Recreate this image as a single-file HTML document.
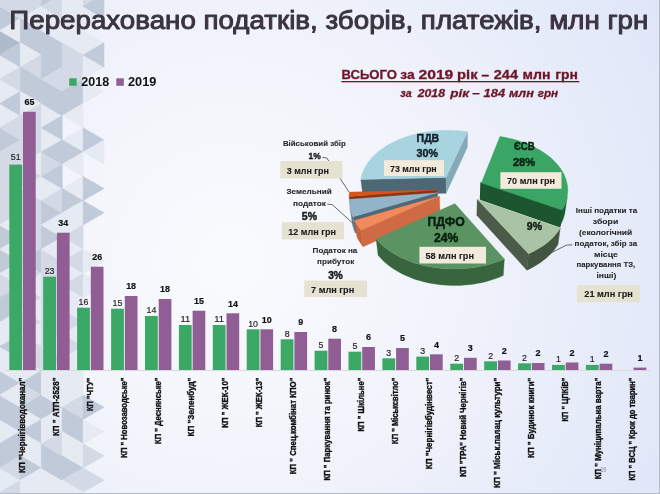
<!DOCTYPE html>
<html><head><meta charset="utf-8"><style>html,body{margin:0;padding:0;background:#f3f4fa;}svg{display:block;}</style></head>
<body><svg width="660" height="494" viewBox="0 0 660 494">
<defs>
<radialGradient id="bg" cx="230" cy="260" r="520" gradientUnits="userSpaceOnUse">
<stop offset="0" stop-color="#fafbfe"/><stop offset="0.45" stop-color="#f1f3fb"/><stop offset="1" stop-color="#dde5f8"/>
</radialGradient>
</defs>
<rect x="0" y="0" width="660" height="494" fill="url(#bg)"/>
<g><polygon points="-0.50,-42.30 -0.50,-18.00 20.40,-30.15" fill="#e6eaf3" stroke="#e6eaf3" stroke-width="0.6"/><polygon points="20.40,-54.45 20.40,-30.15 -0.50,-42.30" fill="#e6eaf3" stroke="#e6eaf3" stroke-width="0.6"/><polygon points="-0.50,-18.00 -0.50,6.30 20.40,-5.85" fill="#d3dae6" stroke="#d3dae6" stroke-width="0.6"/><polygon points="20.40,-30.15 20.40,-5.85 -0.50,-18.00" fill="#e6eaf3" stroke="#e6eaf3" stroke-width="0.6"/><polygon points="-0.50,6.30 -0.50,30.60 20.40,18.45" fill="#c0cad9" stroke="#c0cad9" stroke-width="0.6"/><polygon points="20.40,-5.85 20.40,18.45 -0.50,6.30" fill="#d3dae6" stroke="#d3dae6" stroke-width="0.6"/><polygon points="-0.50,30.60 -0.50,54.90 20.40,42.75" fill="#afbbcd" stroke="#afbbcd" stroke-width="0.6"/><polygon points="20.40,18.45 20.40,42.75 -0.50,30.60" fill="#e6eaf3" stroke="#e6eaf3" stroke-width="0.6"/><polygon points="-0.50,54.90 -0.50,79.20 20.40,67.05" fill="#e6eaf3" stroke="#e6eaf3" stroke-width="0.6"/><polygon points="20.40,42.75 20.40,67.05 -0.50,54.90" fill="#c0cad9" stroke="#c0cad9" stroke-width="0.6"/><polygon points="-0.50,79.20 -0.50,103.50 20.40,91.35" fill="#e6eaf3" stroke="#e6eaf3" stroke-width="0.6"/><polygon points="20.40,67.05 20.40,91.35 -0.50,79.20" fill="#d3dae6" stroke="#d3dae6" stroke-width="0.6"/><polygon points="-0.50,103.50 -0.50,127.80 20.40,115.65" fill="#e6eaf3" stroke="#e6eaf3" stroke-width="0.6"/><polygon points="20.40,91.35 20.40,115.65 -0.50,103.50" fill="#c0cad9" stroke="#c0cad9" stroke-width="0.6"/><polygon points="-0.50,127.80 -0.50,152.10 20.40,139.95" fill="#c0cad9" stroke="#c0cad9" stroke-width="0.6"/><polygon points="20.40,115.65 20.40,139.95 -0.50,127.80" fill="#d3dae6" stroke="#d3dae6" stroke-width="0.6"/><polygon points="-0.50,152.10 -0.50,176.40 20.40,164.25" fill="#d3dae6" stroke="#d3dae6" stroke-width="0.6"/><polygon points="20.40,139.95 20.40,164.25 -0.50,152.10" fill="#d3dae6" stroke="#d3dae6" stroke-width="0.6"/><polygon points="-0.50,176.40 -0.50,200.70 20.40,188.55" fill="#d3dae6" stroke="#d3dae6" stroke-width="0.6"/><polygon points="20.40,164.25 20.40,188.55 -0.50,176.40" fill="#d3dae6" stroke="#d3dae6" stroke-width="0.6"/><polygon points="-0.50,200.70 -0.50,225.00 20.40,212.85" fill="#d3dae6" stroke="#d3dae6" stroke-width="0.6"/><polygon points="20.40,188.55 20.40,212.85 -0.50,200.70" fill="#d3dae6" stroke="#d3dae6" stroke-width="0.6"/><polygon points="-0.50,225.00 -0.50,249.30 20.40,237.15" fill="#c0cad9" stroke="#c0cad9" stroke-width="0.6"/><polygon points="20.40,212.85 20.40,237.15 -0.50,225.00" fill="#e6eaf3" stroke="#e6eaf3" stroke-width="0.6"/><polygon points="-0.50,249.30 -0.50,273.60 20.40,261.45" fill="#c0cad9" stroke="#c0cad9" stroke-width="0.6"/><polygon points="20.40,237.15 20.40,261.45 -0.50,249.30" fill="#e6eaf3" stroke="#e6eaf3" stroke-width="0.6"/><polygon points="-0.50,273.60 -0.50,297.90 20.40,285.75" fill="#d3dae6" stroke="#d3dae6" stroke-width="0.6"/><polygon points="20.40,261.45 20.40,285.75 -0.50,273.60" fill="#e6eaf3" stroke="#e6eaf3" stroke-width="0.6"/><polygon points="-0.50,297.90 -0.50,322.20 20.40,310.05" fill="#c0cad9" stroke="#c0cad9" stroke-width="0.6"/><polygon points="20.40,285.75 20.40,310.05 -0.50,297.90" fill="#c0cad9" stroke="#c0cad9" stroke-width="0.6"/><polygon points="-0.50,322.20 -0.50,346.50 20.40,334.35" fill="#e6eaf3" stroke="#e6eaf3" stroke-width="0.6"/><polygon points="20.40,310.05 20.40,334.35 -0.50,322.20" fill="#e6eaf3" stroke="#e6eaf3" stroke-width="0.6"/><polygon points="-0.50,346.50 -0.50,370.80 20.40,358.65" fill="#e6eaf3" stroke="#e6eaf3" stroke-width="0.6"/><polygon points="20.40,334.35 20.40,358.65 -0.50,346.50" fill="#c0cad9" stroke="#c0cad9" stroke-width="0.6"/><polygon points="-0.50,370.80 -0.50,395.10 20.40,382.95" fill="#c0cad9" stroke="#c0cad9" stroke-width="0.6"/><polygon points="20.40,358.65 20.40,382.95 -0.50,370.80" fill="#e6eaf3" stroke="#e6eaf3" stroke-width="0.6"/><polygon points="-0.50,395.10 -0.50,419.40 20.40,407.25" fill="#c0cad9" stroke="#c0cad9" stroke-width="0.6"/><polygon points="20.40,382.95 20.40,407.25 -0.50,395.10" fill="#e6eaf3" stroke="#e6eaf3" stroke-width="0.6"/><polygon points="-0.50,419.40 -0.50,443.70 20.40,431.55" fill="#e6eaf3" stroke="#e6eaf3" stroke-width="0.6"/><polygon points="20.40,407.25 20.40,431.55 -0.50,419.40" fill="#c0cad9" stroke="#c0cad9" stroke-width="0.6"/><polygon points="-0.50,443.70 -0.50,468.00 20.40,455.85" fill="#c0cad9" stroke="#c0cad9" stroke-width="0.6"/><polygon points="20.40,431.55 20.40,455.85 -0.50,443.70" fill="#c0cad9" stroke="#c0cad9" stroke-width="0.6"/><polygon points="-0.50,468.00 -0.50,492.30 20.40,480.15" fill="#e6eaf3" stroke="#e6eaf3" stroke-width="0.6"/><polygon points="20.40,455.85 20.40,480.15 -0.50,468.00" fill="#d3dae6" stroke="#d3dae6" stroke-width="0.6"/><polygon points="-0.50,492.30 -0.50,516.60 20.40,504.45" fill="#e6eaf3" stroke="#e6eaf3" stroke-width="0.6"/><polygon points="20.40,480.15 20.40,504.45 -0.50,492.30" fill="#d3dae6" stroke="#d3dae6" stroke-width="0.6"/><polygon points="-0.50,516.60 -0.50,540.90 20.40,528.75" fill="#e6eaf3" stroke="#e6eaf3" stroke-width="0.6"/><polygon points="20.40,504.45 20.40,528.75 -0.50,516.60" fill="#e6eaf3" stroke="#e6eaf3" stroke-width="0.6"/><polygon points="-0.50,540.90 -0.50,565.20 20.40,553.05" fill="#e6eaf3" stroke="#e6eaf3" stroke-width="0.6"/><polygon points="20.40,528.75 20.40,553.05 -0.50,540.90" fill="#e6eaf3" stroke="#e6eaf3" stroke-width="0.6"/><polygon points="20.40,-54.45 20.40,-30.15 41.30,-42.30" fill="#e6eaf3" stroke="#e6eaf3" stroke-width="0.6"/><polygon points="41.30,-42.30 41.30,-18.00 20.40,-30.15" fill="#e6eaf3" stroke="#e6eaf3" stroke-width="0.6"/><polygon points="20.40,-30.15 20.40,-5.85 41.30,-18.00" fill="#d3dae6" stroke="#d3dae6" stroke-width="0.6"/><polygon points="41.30,-18.00 41.30,6.30 20.40,-5.85" fill="#d3dae6" stroke="#d3dae6" stroke-width="0.6"/><polygon points="20.40,-5.85 20.40,18.45 41.30,6.30" fill="#d3dae6" stroke="#d3dae6" stroke-width="0.6"/><polygon points="41.30,6.30 41.30,30.60 20.40,18.45" fill="#e6eaf3" stroke="#e6eaf3" stroke-width="0.6"/><polygon points="20.40,18.45 20.40,42.75 41.30,30.60" fill="#c0cad9" stroke="#c0cad9" stroke-width="0.6"/><polygon points="41.30,30.60 41.30,54.90 20.40,42.75" fill="#c0cad9" stroke="#c0cad9" stroke-width="0.6"/><polygon points="20.40,42.75 20.40,67.05 41.30,54.90" fill="#e6eaf3" stroke="#e6eaf3" stroke-width="0.6"/><polygon points="41.30,54.90 41.30,79.20 20.40,67.05" fill="#d3dae6" stroke="#d3dae6" stroke-width="0.6"/><polygon points="20.40,67.05 20.40,91.35 41.30,79.20" fill="#c0cad9" stroke="#c0cad9" stroke-width="0.6"/><polygon points="41.30,79.20 41.30,103.50 20.40,91.35" fill="#c0cad9" stroke="#c0cad9" stroke-width="0.6"/><polygon points="20.40,91.35 20.40,115.65 41.30,103.50" fill="#e6eaf3" stroke="#e6eaf3" stroke-width="0.6"/><polygon points="41.30,103.50 41.30,127.80 20.40,115.65" fill="#d3dae6" stroke="#d3dae6" stroke-width="0.6"/><polygon points="20.40,115.65 20.40,139.95 41.30,127.80" fill="#d3dae6" stroke="#d3dae6" stroke-width="0.6"/><polygon points="41.30,127.80 41.30,152.10 20.40,139.95" fill="#d3dae6" stroke="#d3dae6" stroke-width="0.6"/><polygon points="20.40,139.95 20.40,164.25 41.30,152.10" fill="#d3dae6" stroke="#d3dae6" stroke-width="0.6"/><polygon points="41.30,152.10 41.30,176.40 20.40,164.25" fill="#e6eaf3" stroke="#e6eaf3" stroke-width="0.6"/><polygon points="20.40,164.25 20.40,188.55 41.30,176.40" fill="#d3dae6" stroke="#d3dae6" stroke-width="0.6"/><polygon points="41.30,176.40 41.30,200.70 20.40,188.55" fill="#e6eaf3" stroke="#e6eaf3" stroke-width="0.6"/><polygon points="20.40,188.55 20.40,212.85 41.30,200.70" fill="#d3dae6" stroke="#d3dae6" stroke-width="0.6"/><polygon points="41.30,200.70 41.30,225.00 20.40,212.85" fill="#d3dae6" stroke="#d3dae6" stroke-width="0.6"/><polygon points="20.40,212.85 20.40,237.15 41.30,225.00" fill="#d3dae6" stroke="#d3dae6" stroke-width="0.6"/><polygon points="41.30,225.00 41.30,249.30 20.40,237.15" fill="#d3dae6" stroke="#d3dae6" stroke-width="0.6"/><polygon points="20.40,237.15 20.40,261.45 41.30,249.30" fill="#d3dae6" stroke="#d3dae6" stroke-width="0.6"/><polygon points="41.30,249.30 41.30,273.60 20.40,261.45" fill="#c0cad9" stroke="#c0cad9" stroke-width="0.6"/><polygon points="20.40,261.45 20.40,285.75 41.30,273.60" fill="#d3dae6" stroke="#d3dae6" stroke-width="0.6"/><polygon points="41.30,273.60 41.30,297.90 20.40,285.75" fill="#e6eaf3" stroke="#e6eaf3" stroke-width="0.6"/><polygon points="20.40,285.75 20.40,310.05 41.30,297.90" fill="#d3dae6" stroke="#d3dae6" stroke-width="0.6"/><polygon points="41.30,297.90 41.30,322.20 20.40,310.05" fill="#e6eaf3" stroke="#e6eaf3" stroke-width="0.6"/><polygon points="20.40,310.05 20.40,334.35 41.30,322.20" fill="#d3dae6" stroke="#d3dae6" stroke-width="0.6"/><polygon points="41.30,322.20 41.30,346.50 20.40,334.35" fill="#e6eaf3" stroke="#e6eaf3" stroke-width="0.6"/><polygon points="20.40,334.35 20.40,358.65 41.30,346.50" fill="#d3dae6" stroke="#d3dae6" stroke-width="0.6"/><polygon points="41.30,346.50 41.30,370.80 20.40,358.65" fill="#d3dae6" stroke="#d3dae6" stroke-width="0.6"/><polygon points="20.40,358.65 20.40,382.95 41.30,370.80" fill="#e6eaf3" stroke="#e6eaf3" stroke-width="0.6"/><polygon points="41.30,370.80 41.30,395.10 20.40,382.95" fill="#c0cad9" stroke="#c0cad9" stroke-width="0.6"/><polygon points="20.40,382.95 20.40,407.25 41.30,395.10" fill="#d3dae6" stroke="#d3dae6" stroke-width="0.6"/><polygon points="41.30,395.10 41.30,419.40 20.40,407.25" fill="#c0cad9" stroke="#c0cad9" stroke-width="0.6"/><polygon points="20.40,407.25 20.40,431.55 41.30,419.40" fill="#e6eaf3" stroke="#e6eaf3" stroke-width="0.6"/><polygon points="41.30,419.40 41.30,443.70 20.40,431.55" fill="#c0cad9" stroke="#c0cad9" stroke-width="0.6"/><polygon points="20.40,431.55 20.40,455.85 41.30,443.70" fill="#e6eaf3" stroke="#e6eaf3" stroke-width="0.6"/><polygon points="41.30,443.70 41.30,468.00 20.40,455.85" fill="#e6eaf3" stroke="#e6eaf3" stroke-width="0.6"/><polygon points="20.40,455.85 20.40,480.15 41.30,468.00" fill="#c0cad9" stroke="#c0cad9" stroke-width="0.6"/><polygon points="41.30,468.00 41.30,492.30 20.40,480.15" fill="#e6eaf3" stroke="#e6eaf3" stroke-width="0.6"/><polygon points="20.40,480.15 20.40,504.45 41.30,492.30" fill="#e6eaf3" stroke="#e6eaf3" stroke-width="0.6"/><polygon points="41.30,492.30 41.30,516.60 20.40,504.45" fill="#e6eaf3" stroke="#e6eaf3" stroke-width="0.6"/><polygon points="20.40,504.45 20.40,528.75 41.30,516.60" fill="#e6eaf3" stroke="#e6eaf3" stroke-width="0.6"/><polygon points="41.30,516.60 41.30,540.90 20.40,528.75" fill="#e6eaf3" stroke="#e6eaf3" stroke-width="0.6"/><polygon points="20.40,528.75 20.40,553.05 41.30,540.90" fill="#e6eaf3" stroke="#e6eaf3" stroke-width="0.6"/><polygon points="41.30,540.90 41.30,565.20 20.40,553.05" fill="#e6eaf3" stroke="#e6eaf3" stroke-width="0.6"/><polygon points="41.30,-42.30 41.30,-18.00 62.20,-30.15" fill="#e6eaf3" stroke="#e6eaf3" stroke-width="0.6"/><polygon points="62.20,-54.45 62.20,-30.15 41.30,-42.30" fill="#e6eaf3" stroke="#e6eaf3" stroke-width="0.6"/><polygon points="41.30,-18.00 41.30,6.30 62.20,-5.85" fill="#c0cad9" stroke="#c0cad9" stroke-width="0.6"/><polygon points="62.20,-30.15 62.20,-5.85 41.30,-18.00" fill="#c0cad9" stroke="#c0cad9" stroke-width="0.6"/><polygon points="41.30,6.30 41.30,30.60 62.20,18.45" fill="#e6eaf3" stroke="#e6eaf3" stroke-width="0.6"/><polygon points="62.20,-5.85 62.20,18.45 41.30,6.30" fill="#d3dae6" stroke="#d3dae6" stroke-width="0.6"/><polygon points="41.30,30.60 41.30,54.90 62.20,42.75" fill="#c0cad9" stroke="#c0cad9" stroke-width="0.6"/><polygon points="62.20,18.45 62.20,42.75 41.30,30.60" fill="#e6eaf3" stroke="#e6eaf3" stroke-width="0.6"/><polygon points="41.30,54.90 41.30,79.20 62.20,67.05" fill="#c0cad9" stroke="#c0cad9" stroke-width="0.6"/><polygon points="62.20,42.75 62.20,67.05 41.30,54.90" fill="#c0cad9" stroke="#c0cad9" stroke-width="0.6"/><polygon points="41.30,79.20 41.30,103.50 62.20,91.35" fill="#c0cad9" stroke="#c0cad9" stroke-width="0.6"/><polygon points="62.20,67.05 62.20,91.35 41.30,79.20" fill="#d3dae6" stroke="#d3dae6" stroke-width="0.6"/><polygon points="41.30,103.50 41.30,127.80 62.20,115.65" fill="#e6eaf3" stroke="#e6eaf3" stroke-width="0.6"/><polygon points="62.20,91.35 62.20,115.65 41.30,103.50" fill="#c0cad9" stroke="#c0cad9" stroke-width="0.6"/><polygon points="41.30,127.80 41.30,152.10 62.20,139.95" fill="#e6eaf3" stroke="#e6eaf3" stroke-width="0.6"/><polygon points="62.20,115.65 62.20,139.95 41.30,127.80" fill="#c0cad9" stroke="#c0cad9" stroke-width="0.6"/><polygon points="41.30,152.10 41.30,176.40 62.20,164.25" fill="#d3dae6" stroke="#d3dae6" stroke-width="0.6"/><polygon points="62.20,139.95 62.20,164.25 41.30,152.10" fill="#c0cad9" stroke="#c0cad9" stroke-width="0.6"/><polygon points="41.30,176.40 41.30,200.70 62.20,188.55" fill="#e6eaf3" stroke="#e6eaf3" stroke-width="0.6"/><polygon points="62.20,164.25 62.20,188.55 41.30,176.40" fill="#c0cad9" stroke="#c0cad9" stroke-width="0.6"/><polygon points="41.30,200.70 41.30,225.00 62.20,212.85" fill="#c0cad9" stroke="#c0cad9" stroke-width="0.6"/><polygon points="62.20,188.55 62.20,212.85 41.30,200.70" fill="#d3dae6" stroke="#d3dae6" stroke-width="0.6"/><polygon points="41.30,225.00 41.30,249.30 62.20,237.15" fill="#c0cad9" stroke="#c0cad9" stroke-width="0.6"/><polygon points="62.20,212.85 62.20,237.15 41.30,225.00" fill="#e6eaf3" stroke="#e6eaf3" stroke-width="0.6"/><polygon points="41.30,249.30 41.30,273.60 62.20,261.45" fill="#d3dae6" stroke="#d3dae6" stroke-width="0.6"/><polygon points="62.20,237.15 62.20,261.45 41.30,249.30" fill="#e6eaf3" stroke="#e6eaf3" stroke-width="0.6"/><polygon points="41.30,273.60 41.30,297.90 62.20,285.75" fill="#d3dae6" stroke="#d3dae6" stroke-width="0.6"/><polygon points="62.20,261.45 62.20,285.75 41.30,273.60" fill="#d3dae6" stroke="#d3dae6" stroke-width="0.6"/><polygon points="41.30,297.90 41.30,322.20 62.20,310.05" fill="#d3dae6" stroke="#d3dae6" stroke-width="0.6"/><polygon points="62.20,285.75 62.20,310.05 41.30,297.90" fill="#d3dae6" stroke="#d3dae6" stroke-width="0.6"/><polygon points="41.30,322.20 41.30,346.50 62.20,334.35" fill="#d3dae6" stroke="#d3dae6" stroke-width="0.6"/><polygon points="62.20,310.05 62.20,334.35 41.30,322.20" fill="#d3dae6" stroke="#d3dae6" stroke-width="0.6"/><polygon points="41.30,346.50 41.30,370.80 62.20,358.65" fill="#d3dae6" stroke="#d3dae6" stroke-width="0.6"/><polygon points="62.20,334.35 62.20,358.65 41.30,346.50" fill="#e6eaf3" stroke="#e6eaf3" stroke-width="0.6"/><polygon points="41.30,370.80 41.30,395.10 62.20,382.95" fill="#e6eaf3" stroke="#e6eaf3" stroke-width="0.6"/><polygon points="62.20,358.65 62.20,382.95 41.30,370.80" fill="#e6eaf3" stroke="#e6eaf3" stroke-width="0.6"/><polygon points="41.30,395.10 41.30,419.40 62.20,407.25" fill="#c0cad9" stroke="#c0cad9" stroke-width="0.6"/><polygon points="62.20,382.95 62.20,407.25 41.30,395.10" fill="#e6eaf3" stroke="#e6eaf3" stroke-width="0.6"/><polygon points="41.30,419.40 41.30,443.70 62.20,431.55" fill="#e6eaf3" stroke="#e6eaf3" stroke-width="0.6"/><polygon points="62.20,407.25 62.20,431.55 41.30,419.40" fill="#e6eaf3" stroke="#e6eaf3" stroke-width="0.6"/><polygon points="41.30,443.70 41.30,468.00 62.20,455.85" fill="#c0cad9" stroke="#c0cad9" stroke-width="0.6"/><polygon points="62.20,431.55 62.20,455.85 41.30,443.70" fill="#d3dae6" stroke="#d3dae6" stroke-width="0.6"/><polygon points="41.30,468.00 41.30,492.30 62.20,480.15" fill="#e6eaf3" stroke="#e6eaf3" stroke-width="0.6"/><polygon points="62.20,455.85 62.20,480.15 41.30,468.00" fill="#c0cad9" stroke="#c0cad9" stroke-width="0.6"/><polygon points="41.30,492.30 41.30,516.60 62.20,504.45" fill="#e6eaf3" stroke="#e6eaf3" stroke-width="0.6"/><polygon points="62.20,480.15 62.20,504.45 41.30,492.30" fill="#e6eaf3" stroke="#e6eaf3" stroke-width="0.6"/><polygon points="41.30,516.60 41.30,540.90 62.20,528.75" fill="#e6eaf3" stroke="#e6eaf3" stroke-width="0.6"/><polygon points="62.20,504.45 62.20,528.75 41.30,516.60" fill="#e6eaf3" stroke="#e6eaf3" stroke-width="0.6"/><polygon points="41.30,540.90 41.30,565.20 62.20,553.05" fill="#e6eaf3" stroke="#e6eaf3" stroke-width="0.6"/><polygon points="62.20,528.75 62.20,553.05 41.30,540.90" fill="#e6eaf3" stroke="#e6eaf3" stroke-width="0.6"/><polygon points="62.20,-54.45 62.20,-30.15 83.10,-42.30" fill="#e6eaf3" stroke="#e6eaf3" stroke-width="0.6"/><polygon points="83.10,-42.30 83.10,-18.00 62.20,-30.15" fill="#e6eaf3" stroke="#e6eaf3" stroke-width="0.6"/><polygon points="62.20,-30.15 62.20,-5.85 83.10,-18.00" fill="#e6eaf3" stroke="#e6eaf3" stroke-width="0.6"/><polygon points="83.10,-18.00 83.10,6.30 62.20,-5.85" fill="#e6eaf3" stroke="#e6eaf3" stroke-width="0.6"/><polygon points="62.20,-5.85 62.20,18.45 83.10,6.30" fill="#e6eaf3" stroke="#e6eaf3" stroke-width="0.6"/><polygon points="83.10,6.30 83.10,30.60 62.20,18.45" fill="#e6eaf3" stroke="#e6eaf3" stroke-width="0.6"/><polygon points="62.20,18.45 62.20,42.75 83.10,30.60" fill="#e6eaf3" stroke="#e6eaf3" stroke-width="0.6"/><polygon points="83.10,30.60 83.10,54.90 62.20,42.75" fill="#e6eaf3" stroke="#e6eaf3" stroke-width="0.6"/><polygon points="62.20,42.75 62.20,67.05 83.10,54.90" fill="#d3dae6" stroke="#d3dae6" stroke-width="0.6"/><polygon points="83.10,54.90 83.10,79.20 62.20,67.05" fill="#d3dae6" stroke="#d3dae6" stroke-width="0.6"/><polygon points="62.20,67.05 62.20,91.35 83.10,79.20" fill="#d3dae6" stroke="#d3dae6" stroke-width="0.6"/><polygon points="83.10,79.20 83.10,103.50 62.20,91.35" fill="#c0cad9" stroke="#c0cad9" stroke-width="0.6"/><polygon points="62.20,91.35 62.20,115.65 83.10,103.50" fill="#c0cad9" stroke="#c0cad9" stroke-width="0.6"/><polygon points="83.10,103.50 83.10,127.80 62.20,115.65" fill="#e6eaf3" stroke="#e6eaf3" stroke-width="0.6"/><polygon points="83.10,127.80 83.10,152.10 62.20,139.95" fill="#e6eaf3" stroke="#e6eaf3" stroke-width="0.6"/><polygon points="62.20,139.95 62.20,164.25 83.10,152.10" fill="#c0cad9" stroke="#c0cad9" stroke-width="0.6"/><polygon points="83.10,152.10 83.10,176.40 62.20,164.25" fill="#e6eaf3" stroke="#e6eaf3" stroke-width="0.6"/><polygon points="83.10,176.40 83.10,200.70 62.20,188.55" fill="#e6eaf3" stroke="#e6eaf3" stroke-width="0.6"/><polygon points="62.20,188.55 62.20,212.85 83.10,200.70" fill="#c0cad9" stroke="#c0cad9" stroke-width="0.6"/><polygon points="83.10,200.70 83.10,225.00 62.20,212.85" fill="#e6eaf3" stroke="#e6eaf3" stroke-width="0.6"/><polygon points="62.20,212.85 62.20,237.15 83.10,225.00" fill="#e6eaf3" stroke="#e6eaf3" stroke-width="0.6"/><polygon points="83.10,225.00 83.10,249.30 62.20,237.15" fill="#d3dae6" stroke="#d3dae6" stroke-width="0.6"/><polygon points="62.20,237.15 62.20,261.45 83.10,249.30" fill="#e6eaf3" stroke="#e6eaf3" stroke-width="0.6"/><polygon points="83.10,249.30 83.10,273.60 62.20,261.45" fill="#d3dae6" stroke="#d3dae6" stroke-width="0.6"/><polygon points="62.20,261.45 62.20,285.75 83.10,273.60" fill="#e6eaf3" stroke="#e6eaf3" stroke-width="0.6"/><polygon points="83.10,273.60 83.10,297.90 62.20,285.75" fill="#d3dae6" stroke="#d3dae6" stroke-width="0.6"/><polygon points="62.20,285.75 62.20,310.05 83.10,297.90" fill="#e6eaf3" stroke="#e6eaf3" stroke-width="0.6"/><polygon points="83.10,297.90 83.10,322.20 62.20,310.05" fill="#e6eaf3" stroke="#e6eaf3" stroke-width="0.6"/><polygon points="62.20,310.05 62.20,334.35 83.10,322.20" fill="#d3dae6" stroke="#d3dae6" stroke-width="0.6"/><polygon points="83.10,322.20 83.10,346.50 62.20,334.35" fill="#e6eaf3" stroke="#e6eaf3" stroke-width="0.6"/><polygon points="62.20,334.35 62.20,358.65 83.10,346.50" fill="#d3dae6" stroke="#d3dae6" stroke-width="0.6"/><polygon points="83.10,346.50 83.10,370.80 62.20,358.65" fill="#e6eaf3" stroke="#e6eaf3" stroke-width="0.6"/><polygon points="62.20,358.65 62.20,382.95 83.10,370.80" fill="#e6eaf3" stroke="#e6eaf3" stroke-width="0.6"/><polygon points="83.10,370.80 83.10,395.10 62.20,382.95" fill="#e6eaf3" stroke="#e6eaf3" stroke-width="0.6"/><polygon points="62.20,382.95 62.20,407.25 83.10,395.10" fill="#e6eaf3" stroke="#e6eaf3" stroke-width="0.6"/><polygon points="83.10,395.10 83.10,419.40 62.20,407.25" fill="#d3dae6" stroke="#d3dae6" stroke-width="0.6"/><polygon points="62.20,407.25 62.20,431.55 83.10,419.40" fill="#c0cad9" stroke="#c0cad9" stroke-width="0.6"/><polygon points="83.10,419.40 83.10,443.70 62.20,431.55" fill="#c0cad9" stroke="#c0cad9" stroke-width="0.6"/><polygon points="62.20,431.55 62.20,455.85 83.10,443.70" fill="#e6eaf3" stroke="#e6eaf3" stroke-width="0.6"/><polygon points="83.10,443.70 83.10,468.00 62.20,455.85" fill="#e6eaf3" stroke="#e6eaf3" stroke-width="0.6"/><polygon points="62.20,455.85 62.20,480.15 83.10,468.00" fill="#c0cad9" stroke="#c0cad9" stroke-width="0.6"/><polygon points="83.10,468.00 83.10,492.30 62.20,480.15" fill="#d3dae6" stroke="#d3dae6" stroke-width="0.6"/><polygon points="62.20,480.15 62.20,504.45 83.10,492.30" fill="#e6eaf3" stroke="#e6eaf3" stroke-width="0.6"/><polygon points="83.10,492.30 83.10,516.60 62.20,504.45" fill="#e6eaf3" stroke="#e6eaf3" stroke-width="0.6"/><polygon points="62.20,504.45 62.20,528.75 83.10,516.60" fill="#e6eaf3" stroke="#e6eaf3" stroke-width="0.6"/><polygon points="83.10,516.60 83.10,540.90 62.20,528.75" fill="#e6eaf3" stroke="#e6eaf3" stroke-width="0.6"/><polygon points="62.20,528.75 62.20,553.05 83.10,540.90" fill="#e6eaf3" stroke="#e6eaf3" stroke-width="0.6"/><polygon points="83.10,540.90 83.10,565.20 62.20,553.05" fill="#e6eaf3" stroke="#e6eaf3" stroke-width="0.6"/><polygon points="83.10,-42.30 83.10,-18.00 104.00,-30.15" fill="#e6eaf3" stroke="#e6eaf3" stroke-width="0.6"/><polygon points="83.10,-18.00 83.10,6.30 104.00,-5.85" fill="#d3dae6" stroke="#d3dae6" stroke-width="0.6"/><polygon points="83.10,6.30 83.10,30.60 104.00,18.45" fill="#e6eaf3" stroke="#e6eaf3" stroke-width="0.6"/><polygon points="104.00,-5.85 104.00,18.45 83.10,6.30" fill="#c0cad9" stroke="#c0cad9" stroke-width="0.6"/><polygon points="83.10,30.60 83.10,54.90 104.00,42.75" fill="#e6eaf3" stroke="#e6eaf3" stroke-width="0.6"/><polygon points="83.10,54.90 83.10,79.20 104.00,67.05" fill="#e6eaf3" stroke="#e6eaf3" stroke-width="0.6"/><polygon points="104.00,42.75 104.00,67.05 83.10,54.90" fill="#c0cad9" stroke="#c0cad9" stroke-width="0.6"/><polygon points="83.10,79.20 83.10,103.50 104.00,91.35" fill="#e6eaf3" stroke="#e6eaf3" stroke-width="0.6"/><polygon points="83.10,127.80 83.10,152.10 104.00,139.95" fill="#c0cad9" stroke="#c0cad9" stroke-width="0.6"/><polygon points="104.00,139.95 104.00,164.25 83.10,152.10" fill="#e6eaf3" stroke="#e6eaf3" stroke-width="0.6"/><polygon points="83.10,176.40 83.10,200.70 104.00,188.55" fill="#c0cad9" stroke="#c0cad9" stroke-width="0.6"/><polygon points="83.10,200.70 83.10,225.00 104.00,212.85" fill="#c0cad9" stroke="#c0cad9" stroke-width="0.6"/><polygon points="83.10,249.30 83.10,273.60 104.00,261.45" fill="#e6eaf3" stroke="#e6eaf3" stroke-width="0.6"/><polygon points="83.10,273.60 83.10,297.90 104.00,285.75" fill="#e6eaf3" stroke="#e6eaf3" stroke-width="0.6"/><polygon points="83.10,395.10 83.10,419.40 104.00,407.25" fill="#c0cad9" stroke="#c0cad9" stroke-width="0.6"/><polygon points="83.10,419.40 83.10,443.70 104.00,431.55" fill="#e6eaf3" stroke="#e6eaf3" stroke-width="0.6"/><polygon points="83.10,443.70 83.10,468.00 104.00,455.85" fill="#d3dae6" stroke="#d3dae6" stroke-width="0.6"/><polygon points="83.10,468.00 83.10,492.30 104.00,480.15" fill="#d3dae6" stroke="#d3dae6" stroke-width="0.6"/><polygon points="83.10,492.30 83.10,516.60 104.00,504.45" fill="#e6eaf3" stroke="#e6eaf3" stroke-width="0.6"/><polygon points="83.10,516.60 83.10,540.90 104.00,528.75" fill="#e6eaf3" stroke="#e6eaf3" stroke-width="0.6"/><polygon points="83.10,540.90 83.10,565.20 104.00,553.05" fill="#e6eaf3" stroke="#e6eaf3" stroke-width="0.6"/></g>
<text x="9.3" y="28.6" font-family="'Liberation Sans', Arial, sans-serif" font-weight="normal" font-size="25.5" fill="#3b3440" stroke="#3b3440" stroke-width="0.95" stroke-linejoin="round" textLength="639" lengthAdjust="spacingAndGlyphs">Перераховано податків, зборів, платежів, млн грн</text>
<rect x="69.2" y="78.3" width="7.5" height="7.5" fill="#3ba865"/>
<text x="81.3" y="85.8" font-family="'Liberation Sans', Arial, sans-serif" font-weight="bold" font-size="12" fill="#111" textLength="27.9" lengthAdjust="spacingAndGlyphs">2018</text>
<rect x="116.3" y="78.3" width="7.5" height="7.5" fill="#915d95"/>
<text x="128" y="85.8" font-family="'Liberation Sans', Arial, sans-serif" font-weight="bold" font-size="12" fill="#111" textLength="28.3" lengthAdjust="spacingAndGlyphs">2019</text>
<rect x="9.3" y="164.6" width="12.8" height="205.4" fill="#3ba865"/>
<text x="15.7" y="160.0" text-anchor="middle" font-family="'Liberation Sans', Arial, sans-serif" font-size="9.3" fill="#262626" stroke="#262626" stroke-width="0.2" textLength="9.8" lengthAdjust="spacingAndGlyphs">51</text>
<rect x="23.0" y="111.8" width="12.7" height="258.2" fill="#915d95"/>
<text x="29.4" y="105.2" text-anchor="middle" font-family="'Liberation Sans', Arial, sans-serif" font-weight="bold" font-size="8.9" fill="#111" stroke="#111" stroke-width="0.2" textLength="9.9" lengthAdjust="spacingAndGlyphs">65</text>
<rect x="43.2" y="276.7" width="12.8" height="93.3" fill="#3ba865"/>
<text x="49.6" y="273.9" text-anchor="middle" font-family="'Liberation Sans', Arial, sans-serif" font-size="9.3" fill="#262626" stroke="#262626" stroke-width="0.2" textLength="9.8" lengthAdjust="spacingAndGlyphs">23</text>
<rect x="56.9" y="232.7" width="12.7" height="137.3" fill="#915d95"/>
<text x="63.3" y="226.1" text-anchor="middle" font-family="'Liberation Sans', Arial, sans-serif" font-weight="bold" font-size="8.9" fill="#111" stroke="#111" stroke-width="0.2" textLength="9.9" lengthAdjust="spacingAndGlyphs">34</text>
<rect x="77.1" y="307.7" width="12.8" height="62.3" fill="#3ba865"/>
<text x="83.5" y="304.9" text-anchor="middle" font-family="'Liberation Sans', Arial, sans-serif" font-size="9.3" fill="#262626" stroke="#262626" stroke-width="0.2" textLength="9.8" lengthAdjust="spacingAndGlyphs">16</text>
<rect x="90.8" y="266.7" width="12.7" height="103.3" fill="#915d95"/>
<text x="97.2" y="260.1" text-anchor="middle" font-family="'Liberation Sans', Arial, sans-serif" font-weight="bold" font-size="8.9" fill="#111" stroke="#111" stroke-width="0.2" textLength="9.9" lengthAdjust="spacingAndGlyphs">26</text>
<rect x="111.1" y="308.7" width="12.8" height="61.3" fill="#3ba865"/>
<text x="117.5" y="305.9" text-anchor="middle" font-family="'Liberation Sans', Arial, sans-serif" font-size="9.3" fill="#262626" stroke="#262626" stroke-width="0.2" textLength="9.8" lengthAdjust="spacingAndGlyphs">15</text>
<rect x="124.8" y="296.0" width="12.7" height="74.0" fill="#915d95"/>
<text x="131.1" y="289.4" text-anchor="middle" font-family="'Liberation Sans', Arial, sans-serif" font-weight="bold" font-size="8.9" fill="#111" stroke="#111" stroke-width="0.2" textLength="9.9" lengthAdjust="spacingAndGlyphs">18</text>
<rect x="145.0" y="316.0" width="12.8" height="54.0" fill="#3ba865"/>
<text x="151.4" y="313.2" text-anchor="middle" font-family="'Liberation Sans', Arial, sans-serif" font-size="9.3" fill="#262626" stroke="#262626" stroke-width="0.2" textLength="9.8" lengthAdjust="spacingAndGlyphs">14</text>
<rect x="158.7" y="299.0" width="12.7" height="71.0" fill="#915d95"/>
<text x="165.0" y="292.4" text-anchor="middle" font-family="'Liberation Sans', Arial, sans-serif" font-weight="bold" font-size="8.9" fill="#111" stroke="#111" stroke-width="0.2" textLength="9.9" lengthAdjust="spacingAndGlyphs">18</text>
<rect x="178.9" y="325.0" width="12.8" height="45.0" fill="#3ba865"/>
<text x="185.3" y="322.2" text-anchor="middle" font-family="'Liberation Sans', Arial, sans-serif" font-size="9.3" fill="#262626" stroke="#262626" stroke-width="0.2" textLength="9.8" lengthAdjust="spacingAndGlyphs">11</text>
<rect x="192.6" y="310.7" width="12.7" height="59.3" fill="#915d95"/>
<text x="199.0" y="304.1" text-anchor="middle" font-family="'Liberation Sans', Arial, sans-serif" font-weight="bold" font-size="8.9" fill="#111" stroke="#111" stroke-width="0.2" textLength="9.9" lengthAdjust="spacingAndGlyphs">15</text>
<rect x="212.8" y="325.0" width="12.8" height="45.0" fill="#3ba865"/>
<text x="219.2" y="322.2" text-anchor="middle" font-family="'Liberation Sans', Arial, sans-serif" font-size="9.3" fill="#262626" stroke="#262626" stroke-width="0.2" textLength="9.8" lengthAdjust="spacingAndGlyphs">11</text>
<rect x="226.5" y="313.3" width="12.7" height="56.7" fill="#915d95"/>
<text x="232.9" y="306.7" text-anchor="middle" font-family="'Liberation Sans', Arial, sans-serif" font-weight="bold" font-size="8.9" fill="#111" stroke="#111" stroke-width="0.2" textLength="9.9" lengthAdjust="spacingAndGlyphs">14</text>
<rect x="246.7" y="329.3" width="12.8" height="40.7" fill="#3ba865"/>
<text x="253.1" y="326.5" text-anchor="middle" font-family="'Liberation Sans', Arial, sans-serif" font-size="9.3" fill="#262626" stroke="#262626" stroke-width="0.2" textLength="9.8" lengthAdjust="spacingAndGlyphs">10</text>
<rect x="260.4" y="329.3" width="12.7" height="40.7" fill="#915d95"/>
<text x="266.8" y="322.7" text-anchor="middle" font-family="'Liberation Sans', Arial, sans-serif" font-weight="bold" font-size="8.9" fill="#111" stroke="#111" stroke-width="0.2" textLength="9.9" lengthAdjust="spacingAndGlyphs">10</text>
<rect x="280.7" y="339.3" width="12.8" height="30.7" fill="#3ba865"/>
<text x="287.1" y="336.5" text-anchor="middle" font-family="'Liberation Sans', Arial, sans-serif" font-size="9.3" fill="#262626" stroke="#262626" stroke-width="0.2" textLength="4.9" lengthAdjust="spacingAndGlyphs">8</text>
<rect x="294.4" y="332.0" width="12.7" height="38.0" fill="#915d95"/>
<text x="300.7" y="325.4" text-anchor="middle" font-family="'Liberation Sans', Arial, sans-serif" font-weight="bold" font-size="8.9" fill="#111" stroke="#111" stroke-width="0.2" textLength="5.0" lengthAdjust="spacingAndGlyphs">9</text>
<rect x="314.6" y="350.7" width="12.8" height="19.3" fill="#3ba865"/>
<text x="321.0" y="347.9" text-anchor="middle" font-family="'Liberation Sans', Arial, sans-serif" font-size="9.3" fill="#262626" stroke="#262626" stroke-width="0.2" textLength="4.9" lengthAdjust="spacingAndGlyphs">5</text>
<rect x="328.3" y="338.7" width="12.7" height="31.3" fill="#915d95"/>
<text x="334.6" y="332.1" text-anchor="middle" font-family="'Liberation Sans', Arial, sans-serif" font-weight="bold" font-size="8.9" fill="#111" stroke="#111" stroke-width="0.2" textLength="5.0" lengthAdjust="spacingAndGlyphs">8</text>
<rect x="348.5" y="351.7" width="12.8" height="18.3" fill="#3ba865"/>
<text x="354.9" y="348.9" text-anchor="middle" font-family="'Liberation Sans', Arial, sans-serif" font-size="9.3" fill="#262626" stroke="#262626" stroke-width="0.2" textLength="4.9" lengthAdjust="spacingAndGlyphs">5</text>
<rect x="362.2" y="347.0" width="12.7" height="23.0" fill="#915d95"/>
<text x="368.6" y="340.4" text-anchor="middle" font-family="'Liberation Sans', Arial, sans-serif" font-weight="bold" font-size="8.9" fill="#111" stroke="#111" stroke-width="0.2" textLength="5.0" lengthAdjust="spacingAndGlyphs">6</text>
<rect x="382.4" y="358.3" width="12.8" height="11.7" fill="#3ba865"/>
<text x="388.8" y="355.5" text-anchor="middle" font-family="'Liberation Sans', Arial, sans-serif" font-size="9.3" fill="#262626" stroke="#262626" stroke-width="0.2" textLength="4.9" lengthAdjust="spacingAndGlyphs">3</text>
<rect x="396.1" y="348.0" width="12.7" height="22.0" fill="#915d95"/>
<text x="402.5" y="341.4" text-anchor="middle" font-family="'Liberation Sans', Arial, sans-serif" font-weight="bold" font-size="8.9" fill="#111" stroke="#111" stroke-width="0.2" textLength="5.0" lengthAdjust="spacingAndGlyphs">5</text>
<rect x="416.3" y="356.6" width="12.8" height="13.4" fill="#3ba865"/>
<text x="422.7" y="353.8" text-anchor="middle" font-family="'Liberation Sans', Arial, sans-serif" font-size="9.3" fill="#262626" stroke="#262626" stroke-width="0.2" textLength="4.9" lengthAdjust="spacingAndGlyphs">3</text>
<rect x="430.0" y="354.3" width="12.7" height="15.7" fill="#915d95"/>
<text x="436.4" y="347.7" text-anchor="middle" font-family="'Liberation Sans', Arial, sans-serif" font-weight="bold" font-size="8.9" fill="#111" stroke="#111" stroke-width="0.2" textLength="5.0" lengthAdjust="spacingAndGlyphs">4</text>
<rect x="450.3" y="363.7" width="12.8" height="6.3" fill="#3ba865"/>
<text x="456.7" y="360.9" text-anchor="middle" font-family="'Liberation Sans', Arial, sans-serif" font-size="9.3" fill="#262626" stroke="#262626" stroke-width="0.2" textLength="4.9" lengthAdjust="spacingAndGlyphs">2</text>
<rect x="464.0" y="357.8" width="12.7" height="12.2" fill="#915d95"/>
<text x="470.3" y="351.2" text-anchor="middle" font-family="'Liberation Sans', Arial, sans-serif" font-weight="bold" font-size="8.9" fill="#111" stroke="#111" stroke-width="0.2" textLength="5.0" lengthAdjust="spacingAndGlyphs">3</text>
<rect x="484.2" y="361.3" width="12.8" height="8.7" fill="#3ba865"/>
<text x="490.6" y="358.5" text-anchor="middle" font-family="'Liberation Sans', Arial, sans-serif" font-size="9.3" fill="#262626" stroke="#262626" stroke-width="0.2" textLength="4.9" lengthAdjust="spacingAndGlyphs">2</text>
<rect x="497.9" y="360.5" width="12.7" height="9.5" fill="#915d95"/>
<text x="504.2" y="353.9" text-anchor="middle" font-family="'Liberation Sans', Arial, sans-serif" font-weight="bold" font-size="8.9" fill="#111" stroke="#111" stroke-width="0.2" textLength="5.0" lengthAdjust="spacingAndGlyphs">2</text>
<rect x="518.1" y="363.3" width="12.8" height="6.7" fill="#3ba865"/>
<text x="524.5" y="360.5" text-anchor="middle" font-family="'Liberation Sans', Arial, sans-serif" font-size="9.3" fill="#262626" stroke="#262626" stroke-width="0.2" textLength="4.9" lengthAdjust="spacingAndGlyphs">2</text>
<rect x="531.8" y="363.0" width="12.7" height="7.0" fill="#915d95"/>
<text x="538.1" y="356.4" text-anchor="middle" font-family="'Liberation Sans', Arial, sans-serif" font-weight="bold" font-size="8.9" fill="#111" stroke="#111" stroke-width="0.2" textLength="5.0" lengthAdjust="spacingAndGlyphs">2</text>
<rect x="552.0" y="364.9" width="12.8" height="5.1" fill="#3ba865"/>
<text x="558.4" y="362.1" text-anchor="middle" font-family="'Liberation Sans', Arial, sans-serif" font-size="9.3" fill="#262626" stroke="#262626" stroke-width="0.2" textLength="4.9" lengthAdjust="spacingAndGlyphs">1</text>
<rect x="565.7" y="362.5" width="12.7" height="7.5" fill="#915d95"/>
<text x="572.1" y="355.9" text-anchor="middle" font-family="'Liberation Sans', Arial, sans-serif" font-weight="bold" font-size="8.9" fill="#111" stroke="#111" stroke-width="0.2" textLength="5.0" lengthAdjust="spacingAndGlyphs">2</text>
<rect x="585.9" y="364.9" width="12.8" height="5.1" fill="#3ba865"/>
<text x="592.3" y="362.1" text-anchor="middle" font-family="'Liberation Sans', Arial, sans-serif" font-size="9.3" fill="#262626" stroke="#262626" stroke-width="0.2" textLength="4.9" lengthAdjust="spacingAndGlyphs">1</text>
<rect x="599.6" y="363.7" width="12.7" height="6.3" fill="#915d95"/>
<text x="606.0" y="357.1" text-anchor="middle" font-family="'Liberation Sans', Arial, sans-serif" font-weight="bold" font-size="8.9" fill="#111" stroke="#111" stroke-width="0.2" textLength="5.0" lengthAdjust="spacingAndGlyphs">2</text>
<rect x="633.6" y="367.6" width="12.7" height="2.4" fill="#915d95"/>
<text x="639.9" y="361.0" text-anchor="middle" font-family="'Liberation Sans', Arial, sans-serif" font-weight="bold" font-size="8.9" fill="#111" stroke="#111" stroke-width="0.2" textLength="5.0" lengthAdjust="spacingAndGlyphs">1</text>
<rect x="5" y="370" width="645" height="1" fill="#d8d8de"/>
<text transform="translate(24.8,377.6) rotate(-90)" text-anchor="end" font-family="'Liberation Sans', Arial, sans-serif" font-weight="bold" font-size="8.8" fill="#111" stroke="#111" stroke-width="0.35" textLength="95.4" lengthAdjust="spacingAndGlyphs">КП "Чернігівводоканал"</text>
<text transform="translate(58.7,377.6) rotate(-90)" text-anchor="end" font-family="'Liberation Sans', Arial, sans-serif" font-weight="bold" font-size="8.8" fill="#111" stroke="#111" stroke-width="0.35" textLength="58.4" lengthAdjust="spacingAndGlyphs">КП " АТП-2528"</text>
<text transform="translate(92.6,377.6) rotate(-90)" text-anchor="end" font-family="'Liberation Sans', Arial, sans-serif" font-weight="bold" font-size="8.8" fill="#111" stroke="#111" stroke-width="0.35" textLength="33.4" lengthAdjust="spacingAndGlyphs">КП "ЧТУ"</text>
<text transform="translate(126.6,377.6) rotate(-90)" text-anchor="end" font-family="'Liberation Sans', Arial, sans-serif" font-weight="bold" font-size="8.8" fill="#111" stroke="#111" stroke-width="0.35" textLength="80.2" lengthAdjust="spacingAndGlyphs">КП " Новозаводське"</text>
<text transform="translate(160.5,377.6) rotate(-90)" text-anchor="end" font-family="'Liberation Sans', Arial, sans-serif" font-weight="bold" font-size="8.8" fill="#111" stroke="#111" stroke-width="0.35" textLength="66.4" lengthAdjust="spacingAndGlyphs">КП " Деснянське"</text>
<text transform="translate(194.4,377.6) rotate(-90)" text-anchor="end" font-family="'Liberation Sans', Arial, sans-serif" font-weight="bold" font-size="8.8" fill="#111" stroke="#111" stroke-width="0.35" textLength="58.9" lengthAdjust="spacingAndGlyphs">КП "Зеленбуд"</text>
<text transform="translate(228.3,377.6) rotate(-90)" text-anchor="end" font-family="'Liberation Sans', Arial, sans-serif" font-weight="bold" font-size="8.8" fill="#111" stroke="#111" stroke-width="0.35" textLength="50.1" lengthAdjust="spacingAndGlyphs">КП " ЖЕК-10"</text>
<text transform="translate(262.2,377.6) rotate(-90)" text-anchor="end" font-family="'Liberation Sans', Arial, sans-serif" font-weight="bold" font-size="8.8" fill="#111" stroke="#111" stroke-width="0.35" textLength="49.7" lengthAdjust="spacingAndGlyphs">КП " ЖЕК-13"</text>
<text transform="translate(296.2,377.6) rotate(-90)" text-anchor="end" font-family="'Liberation Sans', Arial, sans-serif" font-weight="bold" font-size="8.8" fill="#111" stroke="#111" stroke-width="0.35" textLength="96.7" lengthAdjust="spacingAndGlyphs">КП " Спец.комбінат КПО"</text>
<text transform="translate(330.1,377.6) rotate(-90)" text-anchor="end" font-family="'Liberation Sans', Arial, sans-serif" font-weight="bold" font-size="8.8" fill="#111" stroke="#111" stroke-width="0.35" textLength="103.0" lengthAdjust="spacingAndGlyphs">КП " Паркування  та ринок"</text>
<text transform="translate(364.0,377.6) rotate(-90)" text-anchor="end" font-family="'Liberation Sans', Arial, sans-serif" font-weight="bold" font-size="8.8" fill="#111" stroke="#111" stroke-width="0.35" textLength="54.0" lengthAdjust="spacingAndGlyphs">КП " Шкільне"</text>
<text transform="translate(397.9,377.6) rotate(-90)" text-anchor="end" font-family="'Liberation Sans', Arial, sans-serif" font-weight="bold" font-size="8.8" fill="#111" stroke="#111" stroke-width="0.35" textLength="66.4" lengthAdjust="spacingAndGlyphs">КП " Міськсвітло"</text>
<text transform="translate(431.8,377.6) rotate(-90)" text-anchor="end" font-family="'Liberation Sans', Arial, sans-serif" font-weight="bold" font-size="8.8" fill="#111" stroke="#111" stroke-width="0.35" textLength="91.6" lengthAdjust="spacingAndGlyphs">КП "Чернігівбудінвест"</text>
<text transform="translate(465.8,377.6) rotate(-90)" text-anchor="end" font-family="'Liberation Sans', Arial, sans-serif" font-weight="bold" font-size="8.8" fill="#111" stroke="#111" stroke-width="0.35" textLength="99.2" lengthAdjust="spacingAndGlyphs">КП "ТРА" Новий Чернігів"</text>
<text transform="translate(499.7,377.6) rotate(-90)" text-anchor="end" font-family="'Liberation Sans', Arial, sans-serif" font-weight="bold" font-size="8.8" fill="#111" stroke="#111" stroke-width="0.35" textLength="110.4" lengthAdjust="spacingAndGlyphs">КП " Міськ.палац  культури"</text>
<text transform="translate(533.6,377.6) rotate(-90)" text-anchor="end" font-family="'Liberation Sans', Arial, sans-serif" font-weight="bold" font-size="8.8" fill="#111" stroke="#111" stroke-width="0.35" textLength="80.4" lengthAdjust="spacingAndGlyphs">КП " Будинок книги"</text>
<text transform="translate(567.5,377.6) rotate(-90)" text-anchor="end" font-family="'Liberation Sans', Arial, sans-serif" font-weight="bold" font-size="8.8" fill="#111" stroke="#111" stroke-width="0.35" textLength="43.9" lengthAdjust="spacingAndGlyphs">КП " ЦПКіВ"</text>
<text transform="translate(601.4,377.6) rotate(-90)" text-anchor="end" font-family="'Liberation Sans', Arial, sans-serif" font-weight="bold" font-size="8.8" fill="#111" stroke="#111" stroke-width="0.35" textLength="101.7" lengthAdjust="spacingAndGlyphs">КП " Муніципальна  варта"</text>
<text transform="translate(635.4,377.6) rotate(-90)" text-anchor="end" font-family="'Liberation Sans', Arial, sans-serif" font-weight="bold" font-size="8.8" fill="#111" stroke="#111" stroke-width="0.35" textLength="103.0" lengthAdjust="spacingAndGlyphs">КП " ВСЦ " Крок до тварин"</text>
<polygon points="445.9,177.5 360.8,179.6 362.9,195.5 446.2,193.3" fill="#4d6774" stroke="#4d6774" stroke-width="0.3" stroke-linejoin="round"/>
<polygon points="445.9,177.5 467.6,131.8 467.5,147.1 446.2,193.3" fill="#86a9b8" stroke="#86a9b8" stroke-width="0.3" stroke-linejoin="round"/>
<polygon points="445.9,177.5 360.8,179.6 361.1,177.7 361.5,175.9 362.0,174.1 362.7,172.2 363.4,170.4 364.2,168.7 365.1,166.9 366.1,165.2 367.2,163.5 368.4,161.8 369.6,160.2 371.0,158.6 372.4,157.0 373.9,155.5 375.5,154.0 377.2,152.5 378.9,151.1 380.7,149.7 382.6,148.4 384.5,147.1 386.5,145.8 388.5,144.6 390.6,143.4 392.8,142.3 395.0,141.2 397.3,140.2 399.6,139.2 401.9,138.3 404.3,137.4 406.7,136.6 409.2,135.8 411.7,135.1 414.2,134.4 416.8,133.7 419.4,133.2 422.0,132.6 424.6,132.2 427.3,131.7 429.9,131.4 432.6,131.1 435.3,130.8 438.0,130.6 440.7,130.4 443.4,130.3 446.1,130.3 448.9,130.3 451.6,130.3 454.3,130.4 457.0,130.6 459.7,130.8 462.3,131.1 465.0,131.4 467.6,131.8" fill="#a8d4e0" stroke="#a8d4e0" stroke-width="0.3" stroke-linejoin="round"/>
<polygon points="481.3,183.1 561.8,210.1 559.6,226.3 480.8,199.0" fill="#1d5530" stroke="#1d5530" stroke-width="2.0" stroke-linejoin="round"/>
<polygon points="567.2,196.8 566.8,198.8 566.3,200.7 565.6,202.6 564.8,204.5 564.0,206.4 563.0,208.3 561.8,210.1 559.6,226.3 560.7,224.4 561.7,222.6 562.5,220.6 563.3,218.7 563.9,216.8 564.5,214.8 564.9,212.9" fill="#1e5c33" stroke="#1e5c33" stroke-width="0.3" stroke-linejoin="round"/>
<polygon points="481.3,183.1 499.9,136.4 502.5,136.8 505.2,137.3 507.8,137.9 510.4,138.4 513.0,139.1 515.6,139.8 518.1,140.6 520.6,141.4 523.0,142.2 525.5,143.1 527.8,144.1 530.2,145.1 532.5,146.1 534.7,147.2 536.9,148.4 539.0,149.6 541.1,150.8 543.1,152.1 545.1,153.4 547.0,154.8 548.8,156.2 550.6,157.6 552.3,159.1 553.9,160.7 555.4,162.2 556.9,163.8 558.2,165.5 559.5,167.1 560.8,168.8 561.9,170.6 562.9,172.3 563.9,174.1 564.7,175.9 565.4,177.7 566.1,179.6 566.6,181.5 567.1,183.4 567.4,185.3 567.7,187.2 567.8,189.1 567.8,191.0 567.7,193.0 567.5,194.9 567.2,196.8 566.8,198.8 566.3,200.7 565.6,202.6 564.8,204.5 564.0,206.4 563.0,208.3 561.8,210.1" fill="#3aa565" stroke="#3aa565" stroke-width="0.3" stroke-linejoin="round"/>
<polygon points="436.8,189.9 349.0,196.4 351.4,212.5 437.3,205.9" fill="#8a3212" stroke="#8a3212" stroke-width="0.3" stroke-linejoin="round"/>
<polygon points="436.8,189.9 349.0,196.4 349.1,195.4 349.2,194.3 349.3,193.2 349.5,192.1" fill="#d4561c" stroke="#d4561c" stroke-width="0.3" stroke-linejoin="round"/>
<polygon points="437.5,192.7 353.0,216.8 355.4,233.1 438.0,208.7" fill="#4f6878" stroke="#4f6878" stroke-width="0.3" stroke-linejoin="round"/>
<polygon points="353.0,216.8 352.0,214.7 351.2,212.5 350.5,210.3 350.0,208.1 352.4,224.3 352.9,226.5 353.6,228.7 354.4,230.9 355.4,233.1" fill="#5a7a8c" stroke="#5a7a8c" stroke-width="0.3" stroke-linejoin="round"/>
<polygon points="437.5,192.7 353.0,216.8 352.0,214.7 351.2,212.5 350.5,210.3 350.0,208.1 349.6,205.9 349.3,203.7 349.2,201.5 349.2,199.3" fill="#92b4c8" stroke="#92b4c8" stroke-width="0.3" stroke-linejoin="round"/>
<polygon points="439.5,196.1 360.9,230.5 363.2,246.8 440.0,212.2" fill="#cf6a44" stroke="#cf6a44" stroke-width="0.3" stroke-linejoin="round"/>
<polygon points="360.9,230.5 359.4,228.5 358.0,226.6 356.7,224.6 355.6,222.6 354.5,220.6 356.9,236.8 357.9,238.9 359.1,240.9 360.3,242.9 361.7,244.9 363.2,246.8" fill="#c5623c" stroke="#c5623c" stroke-width="0.3" stroke-linejoin="round"/>
<polygon points="439.5,196.1 360.9,230.5 359.4,228.5 358.0,226.6 356.7,224.6 355.6,222.6 354.5,220.6" fill="#f28a5b" stroke="#f28a5b" stroke-width="0.3" stroke-linejoin="round"/>
<polygon points="477.2,199.2 528.5,253.8 526.9,270.2 476.8,215.3" fill="#4b5a49" stroke="#4b5a49" stroke-width="0.3" stroke-linejoin="round"/>
<polygon points="560.3,228.1 559.0,230.1 557.5,232.1 556.0,234.1 554.3,236.0 552.5,237.9 550.6,239.7 548.6,241.5 546.5,243.2 544.2,244.9 541.9,246.5 539.4,248.1 536.8,249.6 534.2,251.1 531.4,252.4 528.5,253.8 526.9,270.2 529.7,268.9 532.4,267.5 535.0,266.1 537.5,264.5 539.9,263.0 542.2,261.3 544.4,259.6 546.5,257.9 548.5,256.1 550.4,254.2 552.1,252.3 553.8,250.4 555.3,248.5 556.7,246.5 558.0,244.5" fill="#415540" stroke="#415540" stroke-width="0.3" stroke-linejoin="round"/>
<polygon points="477.2,199.2 560.3,228.1 559.0,230.1 557.5,232.1 556.0,234.1 554.3,236.0 552.5,237.9 550.6,239.7 548.6,241.5 546.5,243.2 544.2,244.9 541.9,246.5 539.4,248.1 536.8,249.6 534.2,251.1 531.4,252.4 528.5,253.8" fill="#a9c4a5" stroke="#a9c4a5" stroke-width="0.3" stroke-linejoin="round"/>
<polygon points="504.4,259.1 501.4,260.3 498.3,261.5 495.2,262.6 492.0,263.6 488.8,264.5 485.4,265.4 482.1,266.1 478.6,266.8 475.2,267.4 471.7,267.9 468.2,268.3 464.6,268.6 461.0,268.9 457.5,269.0 453.9,269.0 450.3,269.0 446.7,268.8 443.2,268.6 439.6,268.2 436.1,267.8 432.6,267.3 429.2,266.7 425.8,266.0 422.5,265.2 419.2,264.3 415.9,263.4 412.8,262.4 409.7,261.2 406.7,260.1 403.7,258.8 400.9,257.5 398.1,256.1 395.4,254.6 392.9,253.1 390.4,251.5 388.0,249.8 385.8,248.1 383.6,246.4 381.6,244.6 379.6,242.7 377.8,240.8 376.1,238.9 378.1,255.3 379.8,257.2 381.5,259.1 383.4,261.0 385.4,262.8 387.5,264.6 389.7,266.3 392.1,267.9 394.5,269.5 397.0,271.1 399.6,272.5 402.3,273.9 405.1,275.3 408.0,276.5 410.9,277.7 413.9,278.9 417.0,279.9 420.2,280.8 423.4,281.7 426.6,282.5 430.0,283.2 433.3,283.8 436.7,284.3 440.1,284.8 443.6,285.1 447.1,285.3 450.5,285.5 454.0,285.5 457.5,285.5 461.0,285.4 464.5,285.1 468.0,284.8 471.4,284.4 474.8,283.9 478.2,283.3 481.5,282.7 484.8,281.9 488.1,281.0 491.2,280.1 494.4,279.1 497.4,278.0 500.4,276.8 503.3,275.6" fill="#38643e" stroke="#38643e" stroke-width="0.3" stroke-linejoin="round"/>
<polygon points="454.9,203.5 504.4,259.1 501.4,260.3 498.3,261.5 495.2,262.6 492.0,263.6 488.8,264.5 485.4,265.4 482.1,266.1 478.6,266.8 475.2,267.4 471.7,267.9 468.2,268.3 464.6,268.6 461.0,268.9 457.5,269.0 453.9,269.0 450.3,269.0 446.7,268.8 443.2,268.6 439.6,268.2 436.1,267.8 432.6,267.3 429.2,266.7 425.8,266.0 422.5,265.2 419.2,264.3 415.9,263.4 412.8,262.4 409.7,261.2 406.7,260.1 403.7,258.8 400.9,257.5 398.1,256.1 395.4,254.6 392.9,253.1 390.4,251.5 388.0,249.8 385.8,248.1 383.6,246.4 381.6,244.6 379.6,242.7 377.8,240.8 376.1,238.9" fill="#5b9363" stroke="#5b9363" stroke-width="0.3" stroke-linejoin="round"/>
<polyline points="322.3,157.3 326.8,158 349,192" fill="none" stroke="#444" stroke-width="0.8"/>
<polyline points="327.3,204.2 332.1,204.5 352.6,223" fill="none" stroke="#444" stroke-width="0.8"/>
<polyline points="572.3,244.8 566.3,245.2 551,252.9 549,254" fill="none" stroke="#444" stroke-width="0.8"/>
<text x="416.6" y="142.0" text-anchor="start" font-family="'Liberation Sans', Arial, sans-serif" font-weight="bold" font-size="10.5" fill="#15202a" textLength="22.6" lengthAdjust="spacingAndGlyphs" stroke="#15202a" stroke-width="0.45">ПДВ</text>
<text x="416.6" y="157.4" text-anchor="start" font-family="'Liberation Sans', Arial, sans-serif" font-weight="bold" font-size="11" fill="#15202a" textLength="21.4" lengthAdjust="spacingAndGlyphs" stroke="#15202a" stroke-width="0.45">30%</text>
<rect x="384" y="160.2" width="60.0" height="15.8" fill="#f2ebdc"/>
<text x="390.0" y="171.7" text-anchor="start" font-family="'Liberation Sans', Arial, sans-serif" font-weight="bold" font-size="8.6" fill="#1e1e1e" textLength="46.7" lengthAdjust="spacingAndGlyphs" stroke="#1e1e1e" stroke-width="0.12">73 млн грн</text>
<text x="514.0" y="150.4" text-anchor="start" font-family="'Liberation Sans', Arial, sans-serif" font-weight="bold" font-size="10.5" fill="#0b2414" textLength="20.8" lengthAdjust="spacingAndGlyphs" stroke="#0b2414" stroke-width="0.45">ЄСВ</text>
<text x="512.9" y="165.5" text-anchor="start" font-family="'Liberation Sans', Arial, sans-serif" font-weight="bold" font-size="11" fill="#0b2414" textLength="22.3" lengthAdjust="spacingAndGlyphs" stroke="#0b2414" stroke-width="0.45">28%</text>
<rect x="500.4" y="172.2" width="61.1" height="16.6" fill="#f2ebdc"/>
<text x="507.0" y="184.4" text-anchor="start" font-family="'Liberation Sans', Arial, sans-serif" font-weight="bold" font-size="8.6" fill="#1e1e1e" textLength="48.0" lengthAdjust="spacingAndGlyphs" stroke="#1e1e1e" stroke-width="0.12">70 млн грн</text>
<text x="427.4" y="225.5" text-anchor="start" font-family="'Liberation Sans', Arial, sans-serif" font-weight="bold" font-size="13.5" fill="#0a200f" textLength="37.3" lengthAdjust="spacingAndGlyphs" stroke="#0a200f" stroke-width="0.5">ПДФО</text>
<text x="434.0" y="242.4" text-anchor="start" font-family="'Liberation Sans', Arial, sans-serif" font-weight="bold" font-size="13.5" fill="#0a200f" textLength="24.2" lengthAdjust="spacingAndGlyphs" stroke="#0a200f" stroke-width="0.5">24%</text>
<rect x="419.4" y="246.8" width="66.6" height="16.7" fill="#f2ebdc"/>
<text x="425.5" y="259.4" text-anchor="start" font-family="'Liberation Sans', Arial, sans-serif" font-weight="bold" font-size="8.8" fill="#1e1e1e" textLength="48.5" lengthAdjust="spacingAndGlyphs" stroke="#1e1e1e" stroke-width="0.12">58 млн грн</text>
<text x="526.8" y="230.2" text-anchor="start" font-family="'Liberation Sans', Arial, sans-serif" font-weight="bold" font-size="10.5" fill="#142014" textLength="15.2" lengthAdjust="spacingAndGlyphs" stroke="#142014" stroke-width="0.45">9%</text>
<text x="282.9" y="145.9" text-anchor="start" font-family="'Liberation Sans', Arial, sans-serif" font-weight="bold" font-size="8" fill="#262626" textLength="62.9" lengthAdjust="spacingAndGlyphs" stroke="#262626" stroke-width="0.08">Військовий  збір</text>
<text x="308.6" y="158.8" text-anchor="start" font-family="'Liberation Sans', Arial, sans-serif" font-weight="bold" font-size="9.5" fill="#1a1a1a" textLength="12.2" lengthAdjust="spacingAndGlyphs" stroke="#1a1a1a" stroke-width="0.4">1%</text>
<rect x="280.3" y="161" width="62.1" height="17.5" fill="#e6e2d2"/>
<text x="286.7" y="174.0" text-anchor="start" font-family="'Liberation Sans', Arial, sans-serif" font-weight="bold" font-size="8.5" fill="#1e1e1e" textLength="42.3" lengthAdjust="spacingAndGlyphs" stroke="#1e1e1e" stroke-width="0.12">3 млн грн</text>
<text x="286.4" y="194.0" text-anchor="start" font-family="'Liberation Sans', Arial, sans-serif" font-weight="bold" font-size="8" fill="#262626" textLength="45.4" lengthAdjust="spacingAndGlyphs" stroke="#262626" stroke-width="0.08">Земельний</text>
<text x="293.0" y="205.8" text-anchor="start" font-family="'Liberation Sans', Arial, sans-serif" font-weight="bold" font-size="8" fill="#262626" textLength="33.0" lengthAdjust="spacingAndGlyphs" stroke="#262626" stroke-width="0.08">податок</text>
<text x="301.8" y="219.7" text-anchor="start" font-family="'Liberation Sans', Arial, sans-serif" font-weight="bold" font-size="11" fill="#1a1a1a" textLength="15.2" lengthAdjust="spacingAndGlyphs" stroke="#1a1a1a" stroke-width="0.45">5%</text>
<rect x="281.8" y="222.1" width="62.2" height="17.3" fill="#e6e2d2"/>
<text x="288.2" y="234.5" text-anchor="start" font-family="'Liberation Sans', Arial, sans-serif" font-weight="bold" font-size="8.5" fill="#1e1e1e" textLength="47.7" lengthAdjust="spacingAndGlyphs" stroke="#1e1e1e" stroke-width="0.12">12 млн грн</text>
<text x="312.6" y="252.9" text-anchor="start" font-family="'Liberation Sans', Arial, sans-serif" font-weight="bold" font-size="8" fill="#262626" textLength="44.7" lengthAdjust="spacingAndGlyphs" stroke="#262626" stroke-width="0.08">Податок на</text>
<text x="317.1" y="263.8" text-anchor="start" font-family="'Liberation Sans', Arial, sans-serif" font-weight="bold" font-size="8" fill="#262626" textLength="37.1" lengthAdjust="spacingAndGlyphs" stroke="#262626" stroke-width="0.08">прибуток</text>
<text x="328.2" y="278.6" text-anchor="start" font-family="'Liberation Sans', Arial, sans-serif" font-weight="bold" font-size="11" fill="#1a1a1a" textLength="14.7" lengthAdjust="spacingAndGlyphs" stroke="#1a1a1a" stroke-width="0.45">3%</text>
<rect x="304.2" y="280.5" width="62.9" height="16.6" fill="#e6e2d2"/>
<text x="311.0" y="292.6" text-anchor="start" font-family="'Liberation Sans', Arial, sans-serif" font-weight="bold" font-size="8.5" fill="#1e1e1e" textLength="43.2" lengthAdjust="spacingAndGlyphs" stroke="#1e1e1e" stroke-width="0.12">7 млн грн</text>
<text x="575.8" y="213.0" text-anchor="start" font-family="'Liberation Sans', Arial, sans-serif" font-weight="bold" font-size="8" fill="#262626" textLength="61.4" lengthAdjust="spacingAndGlyphs" stroke="#262626" stroke-width="0.08">Інші податки та</text>
<text x="592.8" y="224.0" text-anchor="start" font-family="'Liberation Sans', Arial, sans-serif" font-weight="bold" font-size="8" fill="#262626" textLength="25.5" lengthAdjust="spacingAndGlyphs" stroke="#262626" stroke-width="0.08">збори</text>
<text x="578.9" y="234.9" text-anchor="start" font-family="'Liberation Sans', Arial, sans-serif" font-weight="bold" font-size="8" fill="#262626" textLength="53.4" lengthAdjust="spacingAndGlyphs" stroke="#262626" stroke-width="0.08">(екологічний</text>
<text x="574.6" y="245.8" text-anchor="start" font-family="'Liberation Sans', Arial, sans-serif" font-weight="bold" font-size="8" fill="#262626" textLength="62.6" lengthAdjust="spacingAndGlyphs" stroke="#262626" stroke-width="0.08">податок, збір за</text>
<text x="594.0" y="256.7" text-anchor="start" font-family="'Liberation Sans', Arial, sans-serif" font-weight="bold" font-size="8" fill="#262626" textLength="23.8" lengthAdjust="spacingAndGlyphs" stroke="#262626" stroke-width="0.08">місце</text>
<text x="576.5" y="267.2" text-anchor="start" font-family="'Liberation Sans', Arial, sans-serif" font-weight="bold" font-size="8" fill="#262626" textLength="58.7" lengthAdjust="spacingAndGlyphs" stroke="#262626" stroke-width="0.08">паркування ТЗ,</text>
<text x="596.4" y="277.9" text-anchor="start" font-family="'Liberation Sans', Arial, sans-serif" font-weight="bold" font-size="8" fill="#262626" textLength="19.9" lengthAdjust="spacingAndGlyphs" stroke="#262626" stroke-width="0.08">інші)</text>
<rect x="577" y="285.1" width="63.1" height="17.0" fill="#e6e2d2"/>
<text x="584.3" y="296.8" text-anchor="start" font-family="'Liberation Sans', Arial, sans-serif" font-weight="bold" font-size="8.5" fill="#1e1e1e" textLength="48.5" lengthAdjust="spacingAndGlyphs" stroke="#1e1e1e" stroke-width="0.12">21 млн грн</text>
<text x="341.5" y="79.3" text-anchor="start" font-family="'Liberation Sans', Arial, sans-serif" font-weight="bold" font-size="12.5" fill="#6e1627" textLength="55.5" lengthAdjust="spacingAndGlyphs" stroke="#6e1627" stroke-width="0.3">ВСЬОГО</text>
<text x="400.3" y="79.3" text-anchor="start" font-family="'Liberation Sans', Arial, sans-serif" font-weight="bold" font-size="12.5" fill="#6e1627" textLength="14.4" lengthAdjust="spacingAndGlyphs" stroke="#6e1627" stroke-width="0.3">за</text>
<text x="418.5" y="79.3" text-anchor="start" font-family="'Liberation Sans', Arial, sans-serif" font-weight="bold" font-size="12.5" fill="#6e1627" textLength="34.8" lengthAdjust="spacingAndGlyphs" stroke="#6e1627" stroke-width="0.3">2019</text>
<text x="457.1" y="79.3" text-anchor="start" font-family="'Liberation Sans', Arial, sans-serif" font-weight="bold" font-size="12.5" fill="#6e1627" textLength="20.5" lengthAdjust="spacingAndGlyphs" stroke="#6e1627" stroke-width="0.3">рік</text>
<text x="481.4" y="79.3" text-anchor="start" font-family="'Liberation Sans', Arial, sans-serif" font-weight="bold" font-size="12.5" fill="#6e1627" textLength="7.6" lengthAdjust="spacingAndGlyphs" stroke="#6e1627" stroke-width="0.3">–</text>
<text x="493.8" y="79.3" text-anchor="start" font-family="'Liberation Sans', Arial, sans-serif" font-weight="bold" font-size="12.5" fill="#6e1627" textLength="24.2" lengthAdjust="spacingAndGlyphs" stroke="#6e1627" stroke-width="0.3">244</text>
<text x="522.6" y="79.3" text-anchor="start" font-family="'Liberation Sans', Arial, sans-serif" font-weight="bold" font-size="12.5" fill="#6e1627" textLength="28.0" lengthAdjust="spacingAndGlyphs" stroke="#6e1627" stroke-width="0.3">млн</text>
<text x="555.2" y="79.3" text-anchor="start" font-family="'Liberation Sans', Arial, sans-serif" font-weight="bold" font-size="12.5" fill="#6e1627" textLength="22.7" lengthAdjust="spacingAndGlyphs" stroke="#6e1627" stroke-width="0.3">грн</text>
<rect x="341.3" y="81.0" width="238" height="1.3" fill="#6e1627"/>
<text x="400.3" y="97.0" text-anchor="start" font-family="'Liberation Sans', Arial, sans-serif" font-weight="bold" font-size="11.5" fill="#6e1627" textLength="11.4" lengthAdjust="spacingAndGlyphs" font-style="italic" stroke="#6e1627" stroke-width="0.3">за</text>
<text x="417.7" y="97.0" text-anchor="start" font-family="'Liberation Sans', Arial, sans-serif" font-weight="bold" font-size="11.5" fill="#6e1627" textLength="27.3" lengthAdjust="spacingAndGlyphs" font-style="italic" stroke="#6e1627" stroke-width="0.3">2018</text>
<text x="450.3" y="97.0" text-anchor="start" font-family="'Liberation Sans', Arial, sans-serif" font-weight="bold" font-size="11.5" fill="#6e1627" textLength="18.9" lengthAdjust="spacingAndGlyphs" font-style="italic" stroke="#6e1627" stroke-width="0.3">рік</text>
<text x="472.3" y="97.0" text-anchor="start" font-family="'Liberation Sans', Arial, sans-serif" font-weight="bold" font-size="11.5" fill="#6e1627" textLength="7.5" lengthAdjust="spacingAndGlyphs" font-style="italic" stroke="#6e1627" stroke-width="0.3">–</text>
<text x="483.6" y="97.0" text-anchor="start" font-family="'Liberation Sans', Arial, sans-serif" font-weight="bold" font-size="11.5" fill="#6e1627" textLength="21.6" lengthAdjust="spacingAndGlyphs" font-style="italic" stroke="#6e1627" stroke-width="0.3">184</text>
<text x="508.9" y="97.0" text-anchor="start" font-family="'Liberation Sans', Arial, sans-serif" font-weight="bold" font-size="11.5" fill="#6e1627" textLength="25.0" lengthAdjust="spacingAndGlyphs" font-style="italic" stroke="#6e1627" stroke-width="0.3">млн</text>
<text x="537.7" y="97.0" text-anchor="start" font-family="'Liberation Sans', Arial, sans-serif" font-weight="bold" font-size="11.5" fill="#6e1627" textLength="20.5" lengthAdjust="spacingAndGlyphs" font-style="italic" stroke="#6e1627" stroke-width="0.3">грн</text>
<text x="600.5" y="472.2" text-anchor="start" font-family="'Liberation Sans', Arial, sans-serif" font-weight="normal" font-size="7.6" fill="#7c7c88" textLength="5.6" lengthAdjust="spacingAndGlyphs">19</text>
<rect x="659" y="0" width="1" height="494" fill="#b4bac8"/>
<rect x="0" y="493" width="660" height="1" fill="#b4bac8"/>
</svg></body></html>
